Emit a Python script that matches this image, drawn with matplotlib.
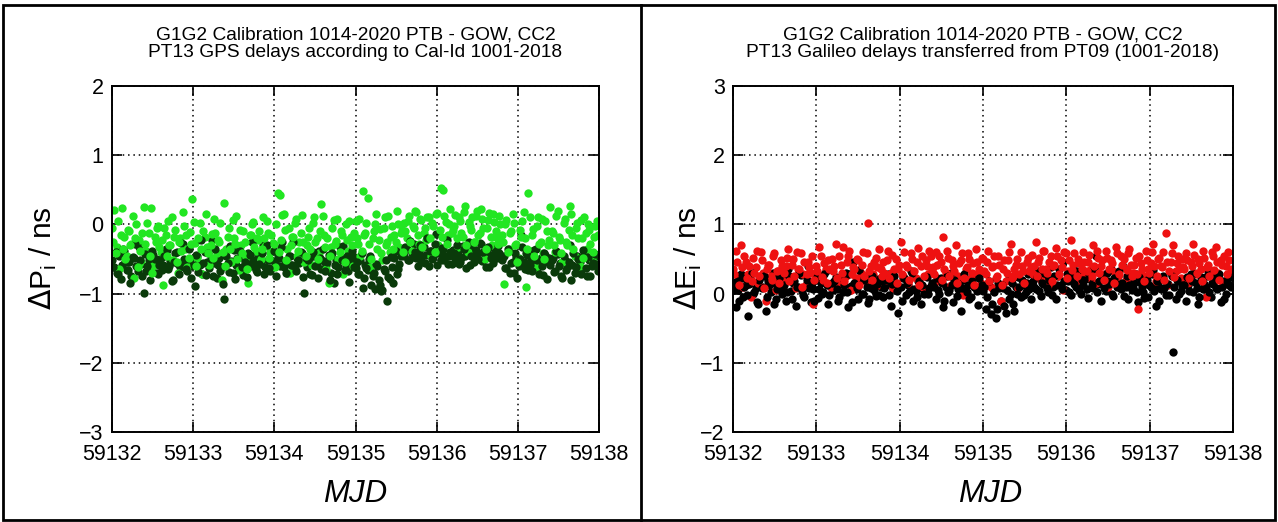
import numpy as np
import matplotlib
matplotlib.use('Agg')
import matplotlib.pyplot as plt
from matplotlib.patches import Rectangle
from matplotlib.ticker import ScalarFormatter

plt.rcParams['font.family'] = ['Liberation Sans', 'DejaVu Sans']

# track epochs (MJD): two interleaved sets, 0.03 d apart each
mjd_a = 59132.0 + 0.03 * np.arange(200)
mjd_b = mjd_a + 0.015

# GPS delay differences, PT13 (ns) - dark green / light green
gps_dark_a = [
    -0.52, -0.61, -0.70, -0.45, -0.58, -0.38, -0.66, -0.55, -0.74, -0.49, -0.60, -0.33, -0.57, -0.99, -0.68, -0.51, -0.63, -0.44, -0.56, -0.72,
    -0.48, -0.59, -0.36, -0.65, -0.53, -0.81, -0.42, -0.57, -0.62, -0.28, -0.55, -0.67, -0.50, -0.60, -0.89, -0.46, -0.58, -0.71, -0.40, -0.54,
    -0.63, -0.22, -0.56, -0.78, -0.49, -0.61, -1.08, -0.45, -0.69, -0.53, -0.37, -0.58, -0.64, -0.47, -0.73, -0.55, -0.41, -0.60, -0.52, -0.66,
    -0.44, -0.57, -0.30, -0.62, -0.51, -0.68, -0.39, -0.55, -0.47, -0.60, -0.26, -0.53, -0.70, -0.45, -0.58, -0.64, -0.49, -0.56, -0.42, -0.99,
    -0.61, -0.50, -0.73, -0.46, -0.57, -0.38, -0.65, -0.53, -0.59, -0.44, -0.70, -0.85, -0.52, -0.62, -0.48, -0.31, -0.58, -0.67, -0.55, -0.45,
    -0.63, -0.71, -0.52, -0.92, -0.58, -0.66, -0.45, -0.75, -0.93, -0.60, -0.88, -0.95, -0.68, -1.10, -0.79, -0.62, -0.49, -0.72, -0.57, -0.40,
    -0.45, -0.36, -0.52, -0.41, -0.29, -0.48, -0.38, -0.55, -0.33, -0.44, -0.60, -0.39, -0.47, -0.14, -0.42, -0.51, -0.35, -0.46, -0.57, -0.40,
    -0.37, -0.49, -0.43, -0.55, -0.31, -0.46, -0.40, -0.58, -0.36, -0.50, -0.42, -0.27, -0.53, -0.45, -0.38, -0.62, -0.44, -0.34, -0.49, -0.41,
    -0.52, -0.45, -0.63, -0.38, -0.56, -0.70, -0.47, -0.60, -0.16, -0.54, -0.42, -0.66, -0.50, -0.58, -0.35, -0.61, -0.48, -0.73, -0.44, -0.55,
    -0.59, -0.49, -0.67, -0.43, -0.56, -0.78, -0.51, -0.62, -0.30, -0.58, -0.70, -0.46, -0.55, -0.64, -0.40, -0.74, -0.52, -0.60, -0.47, -0.57,
]
gps_dark_b = [
    -0.62, -0.40, -0.71, -0.79, -0.35, -0.55, -0.66, -0.84, -0.47, -0.28, -0.68, -0.52, -0.75, -0.43, -0.60, -0.80, -0.38, -0.50, -0.70, -0.58,
    -0.66, -0.45, -0.37, -0.60, -0.82, -0.55, -0.40, -0.72, -0.27, -0.50, -0.64, -0.36, -0.77, -0.58, -0.44, -0.69, -0.23, -0.56, -0.73, -0.42,
    -0.50, -0.74, -0.36, -0.58, -0.67, -0.86, -0.43, -0.56, -0.31, -0.70, -0.79, -0.48, -0.39, -0.62, -0.54, -0.76, -0.44, -0.26, -0.60, -0.69,
    -0.57, -0.42, -0.72, -0.30, -0.63, -0.51, -0.38, -0.75, -0.49, -0.33, -0.61, -0.70, -0.45, -0.58, -0.25, -0.67, -0.52, -0.40, -0.76, -0.48,
    -0.52, -0.71, -0.40, -0.60, -0.77, -0.49, -0.36, -0.68, -0.55, -0.80, -0.42, -0.59, -0.72, -0.33, -0.51, -0.66, -0.46, -0.83, -0.39, -0.62,
    -0.55, -0.72, -0.42, -0.78, -0.63, -0.50, -0.88, -0.70, -0.57, -0.81, -0.96, -0.65, -0.52, -0.76, -0.47, -0.84, -0.38, -0.64, -0.45, -0.41,
    -0.33, -0.52, -0.24, -0.47, -0.40, -0.60, -0.30, -0.45, -0.56, -0.20, -0.38, -0.50, -0.28, -0.58, -0.42, -0.34, -0.51, -0.22, -0.46, -0.57,
    -0.42, -0.30, -0.57, -0.48, -0.35, -0.63, -0.26, -0.45, -0.54, -0.37, -0.50, -0.29, -0.40, -0.61, -0.33, -0.48, -0.56, -0.39, -0.31, -0.47,
    -0.47, -0.63, -0.35, -0.70, -0.55, -0.41, -0.77, -0.50, -0.32, -0.65, -0.44, -0.58, -0.68, -0.37, -0.52, -0.72, -0.60, -0.42, -0.79, -0.49,
    -0.51, -0.69, -0.39, -0.60, -0.75, -0.45, -0.66, -0.54, -0.80, -0.42, -0.62, -0.50, -0.71, -0.37, -0.63, -0.47, -0.74, -0.56, -0.43, -0.67,
]
gps_light_a = [
    -0.05, 0.21, -0.32, -0.65, 0.24, -0.18, -0.45, -0.10, -0.28, -0.78, 0.00, -0.22, -0.55, 0.25, -0.38, -0.12, 0.23, -0.60, -0.25, -0.02,
    -0.40, -0.88, -0.15, 0.05, -0.30, -0.52, -0.08, -0.70, -0.20, 0.18, -0.35, -0.62, -0.11, 0.37, -0.27, -0.48, 0.02, -0.72, -0.18, -0.33,
    -0.58, -0.14, 0.08, -0.42, -0.25, -0.80, 0.31, -0.36, -0.05, -0.55, -0.20, 0.12, -0.66, -0.30, -0.10, -0.47, -0.85, -0.16, 0.04, -0.38,
    -0.22, -0.50, 0.10, -0.31, -0.12, -0.40, -0.27, -0.62, 0.45, 0.42, 0.14, -0.08, -0.35, -0.70, -0.18, 0.02, -0.45, -0.25, 0.13, -0.55,
    -0.30, -0.05, -0.58, 0.11, -0.20, -0.42, 0.30, -0.15, -0.65, -0.85, -0.33, 0.06, -0.24, -0.50, -0.10, -0.72, 0.01, -0.38, -0.18, -0.60,
    0.05, -0.28, -0.45, 0.48, -0.12, 0.38, -0.62, -0.20, 0.00, -0.35, -0.07, -0.52, 0.10, -0.25, -0.40, -0.03, -0.15, 0.20, -0.33, -0.08,
    0.02, -0.20, 0.12, -0.38, -0.05, 0.18, -0.28, 0.06, -0.12, -0.22, 0.10, -0.45, -0.02, 0.15, -0.30, 0.53, 0.50, 0.04, -0.15, 0.22,
    -0.08, 0.14, -0.32, 0.05, -0.18, 0.27, -0.40, -0.02, 0.11, -0.25, 0.20, -0.12, 0.08, -0.50, -0.05, 0.16, -0.30, 0.03, -0.20, 0.12,
    -0.15, -0.86, 0.07, -0.35, -0.10, 0.02, -0.28, -0.48, -0.18, 0.18, -0.90, 0.46, -0.38, -0.06, -0.62, 0.10, -0.25, -0.42, 0.05, -0.30,
    0.25, -0.12, -0.40, 0.20, -0.22, -0.55, 0.08, -0.30, 0.26, -0.15, -0.45, 0.02, -0.60, -0.20, 0.10, -0.35, -0.08, -0.50, -0.18, 0.05,
]
gps_light_b = [
    -0.25, -0.42, 0.05, -0.15, -0.35, -0.50, -0.08, -0.30, 0.12, -0.20, -0.62, -0.38, -0.12, -0.28, 0.02, -0.45, -0.70, -0.18, -0.05, -0.32,
    -0.22, -0.05, -0.45, -0.30, 0.10, -0.18, -0.55, -0.25, -0.38, -0.02, -0.15, -0.48, -0.28, 0.04, -0.60, -0.20, -0.35, -0.10, 0.15, -0.42,
    -0.30, -0.48, -0.12, -0.22, 0.02, -0.40, -0.60, -0.18, -0.35, 0.06, -0.28, -0.50, -0.08, -0.42, -0.25, -0.65, -0.15, 0.00, -0.32, -0.20,
    -0.10, -0.35, -0.20, 0.05, -0.48, -0.15, -0.28, 0.00, -0.40, -0.22, 0.15, -0.52, -0.05, -0.30, -0.18, 0.08, -0.38, -0.12, -0.25, -0.45,
    -0.18, -0.35, 0.02, -0.25, -0.50, -0.10, 0.12, -0.32, -0.20, -0.45, -0.05, -0.28, 0.08, -0.40, -0.15, -0.55, -0.22, 0.05, -0.30, -0.12,
    -0.20, 0.08, -0.38, -0.15, 0.02, -0.28, -0.50, -0.10, 0.15, -0.22, -0.42, -0.05, -0.30, 0.12, -0.18, -0.35, -0.25, 0.00, -0.12, -0.40,
    -0.10, 0.05, -0.25, -0.02, 0.20, -0.15, 0.08, -0.32, -0.05, 0.10, -0.20, 0.02, -0.40, 0.16, -0.08, -0.18, 0.12, -0.28, 0.00, -0.12,
    -0.02, -0.20, 0.10, -0.12, 0.18, -0.30, 0.04, -0.08, -0.25, 0.12, -0.15, 0.22, -0.05, -0.35, 0.06, -0.18, 0.15, -0.10, -0.28, 0.00,
    -0.25, 0.00, -0.40, -0.12, 0.15, -0.30, -0.55, -0.08, 0.05, -0.20, -0.35, 0.10, -0.15, -0.45, -0.02, -0.28, 0.08, -0.50, -0.10, -0.22,
    -0.10, -0.30, 0.12, -0.18, -0.42, 0.02, -0.25, -0.08, 0.15, -0.35, -0.05, -0.20, 0.06, -0.48, -0.12, 0.00, -0.28, -0.40, -0.02, -0.15,
]

# Galileo delay differences, PT13 (ns) - black / red
gal_black_a = [
    0.15, -0.20, 0.05, 0.28, -0.05, 0.12, -0.32, 0.20, 0.00, 0.08, -0.15, 0.25, 0.10, -0.25, 0.18, 0.02, 0.30, -0.08, 0.14, 0.06,
    0.22, -0.10, 0.35, 0.04, 0.16, -0.18, 0.09, 0.27, -0.02, 0.12, 0.40, -0.12, 0.07, 0.20, -0.06, 0.15, 0.03, 0.32, -0.15, 0.10,
    0.05, 0.24, -0.10, 0.14, 0.02, 0.30, -0.20, 0.11, 0.45, 0.06, -0.08, 0.19, 0.00, 0.26, -0.14, 0.08, 0.17, -0.03, 0.21, 0.10,
    -0.05, 0.12, 0.28, -0.18, 0.06, 0.15, -0.28, 0.09, 0.22, -0.02, 0.13, 0.33, -0.10, 0.04, 0.18, -0.15, 0.07, 0.25, 0.00, 0.11,
    0.16, -0.08, 0.05, 0.23, -0.20, 0.10, 0.02, 0.30, -0.12, 0.14, 0.07, -0.25, 0.19, 0.03, 0.12, -0.05, 0.26, 0.08, -0.16, 0.10,
    0.04, -0.22, 0.12, -0.30, 0.06, -0.35, 0.15, -0.10, 0.08, -0.28, 0.20, 0.00, -0.15, 0.10, 0.24, -0.05, 0.13, 0.03, 0.29, -0.08,
    0.18, 0.06, 0.32, -0.04, 0.14, 0.22, 0.02, 0.38, 0.10, -0.08, 0.25, 0.12, 0.45, 0.05, 0.18, -0.02, 0.28, 0.09, 0.16, 0.00,
    0.12, 0.30, -0.06, 0.20, 0.08, 0.55, 0.14, -0.10, 0.24, 0.04, 0.18, 0.35, -0.03, 0.15, 0.26, 0.06, 0.40, 0.10, -0.08, 0.20,
    0.08, 0.28, -0.12, 0.16, 0.02, 0.22, -0.05, 0.10, 0.34, -0.18, 0.12, 0.06, 0.25, -0.02, 0.14, 0.30, -0.85, -0.08, 0.18, 0.04,
    0.20, -0.10, 0.12, 0.28, 0.02, 0.16, -0.15, 0.24, 0.06, 0.10, 0.32, -0.05, 0.14, 0.08, 0.22, -0.12, 0.18, 0.00, 0.26, 0.10,
]
gal_black_b = [
    0.05, 0.18, -0.10, 0.22, 0.10, -0.02, 0.14, 0.30, 0.02, -0.12, 0.20, 0.08, 0.25, -0.05, 0.12, 0.16, -0.15, 0.06, 0.22, 0.00,
    0.12, 0.02, 0.25, -0.08, 0.18, 0.10, 0.30, 0.04, -0.05, 0.20, 0.08, 0.15, -0.10, 0.24, 0.06, 0.00, 0.28, 0.12, -0.02, 0.16,
    0.18, 0.06, -0.05, 0.22, 0.12, 0.02, 0.28, -0.12, 0.15, 0.08, 0.34, 0.00, 0.20, 0.10, -0.08, 0.25, 0.05, 0.14, -0.02, 0.18,
    0.08, 0.20, -0.02, 0.14, 0.25, 0.04, 0.10, -0.10, 0.22, 0.15, 0.02, 0.30, 0.06, -0.05, 0.18, 0.12, 0.00, 0.24, 0.08, 0.16,
    0.10, 0.22, 0.00, 0.15, -0.10, 0.26, 0.05, 0.12, 0.20, -0.04, 0.14, 0.08, 0.28, 0.02, -0.08, 0.18, 0.10, 0.04, 0.22, 0.12,
    0.10, -0.05, 0.18, -0.15, 0.02, -0.22, 0.08, 0.12, -0.18, 0.05, -0.08, 0.15, -0.25, 0.00, 0.10, 0.20, -0.02, 0.16, 0.06, 0.12,
    0.10, 0.24, 0.04, 0.16, 0.30, 0.08, 0.20, -0.02, 0.26, 0.12, 0.35, 0.06, 0.18, 0.28, 0.02, 0.22, 0.14, 0.32, 0.05, 0.20,
    0.20, 0.06, 0.28, 0.12, 0.35, 0.02, 0.18, 0.25, 0.08, 0.30, 0.14, 0.00, 0.22, 0.10, 0.32, 0.16, -0.04, 0.26, 0.12, 0.05,
    0.15, 0.02, 0.24, 0.10, -0.06, 0.20, 0.12, 0.28, 0.04, 0.18, -0.10, 0.22, 0.08, 0.14, -0.02, 0.26, 0.10, 0.20, 0.00, 0.12,
    0.12, 0.24, 0.04, 0.18, 0.30, 0.08, -0.05, 0.20, 0.14, 0.26, 0.02, 0.16, 0.22, 0.06, 0.28, 0.10, -0.08, 0.18, 0.12, 0.24,
]
gal_red_a = [
    0.35, 0.62, 0.20, 0.70, 0.10, 0.45, 0.28, -0.05, 0.52, 0.38, 0.15, 0.60, 0.30, -0.10, 0.42, 0.25, 0.55, 0.05, 0.33, 0.48,
    0.18, 0.40, 0.65, 0.22, 0.50, 0.08, 0.36, 0.58, 0.28, 0.12, 0.45, 0.30, -0.15, 0.40, 0.26, 0.55, 0.20, 0.35, 0.48, 0.10,
    0.32, 0.72, 0.15, 0.42, 0.68, 0.25, 0.55, 0.05, 0.38, 0.22, 0.48, 0.30, 0.60, 0.18, 1.02, 0.40, 0.28, 0.52, 0.12, 0.35,
    0.45, 0.20, 0.62, 0.30, 0.08, 0.50, 0.35, 0.74, 0.25, 0.42, 0.15, 0.58, 0.32, 0.22, 0.66, 0.40, 0.10, 0.48, 0.28, 0.55,
    0.38, 0.60, 0.18, 0.45, 0.82, 0.30, 0.52, 0.12, 0.40, 0.70, 0.25, 0.48, -0.02, 0.35, 0.58, 0.22, 0.44, 0.65, 0.30, 0.15,
    0.50, 0.28, 0.62, 0.10, 0.40, 0.22, 0.55, -0.10, 0.35, 0.18, 0.48, 0.72, 0.25, 0.42, 0.08, 0.60, 0.32, 0.15, 0.52, 0.38,
    0.28, 0.75, 0.45, 0.20, 0.62, 0.35, 0.12, 0.55, 0.40, 0.66, 0.25, 0.48, 0.05, 0.58, 0.32, 0.78, 0.42, 0.18, 0.50, 0.30,
    0.60, 0.22, 0.45, 0.35, 0.70, 0.15, 0.52, 0.40, 0.28, 0.62, 0.10, 0.48, 0.33, 0.68, 0.25, 0.55, 0.38, 0.20, 0.58, 0.42,
    0.30, 0.52, -0.22, 0.44, 0.25, 0.62, 0.35, 0.44, 0.72, 0.18, 0.50, 0.40, 0.60, 0.87, 0.12, 0.46, 0.70, 0.32, 0.55, 0.22,
    0.38, 0.58, 0.15, 0.45, 0.72, 0.28, 0.50, 0.35, 0.62, -0.05, 0.42, 0.25, 0.55, 0.68, 0.30, 0.48, 0.12, 0.40, 0.60, 0.33,
]
gal_red_b = [
    0.28, 0.45, 0.12, 0.38, 0.55, 0.22, 0.40, 0.18, 0.30, 0.62, 0.25, 0.48, 0.08, 0.35, 0.42, 0.20, 0.58, 0.32, 0.15, 0.40,
    0.30, 0.52, 0.18, 0.42, 0.25, 0.60, 0.35, 0.10, 0.46, 0.28, 0.38, 0.55, 0.20, 0.32, 0.68, 0.24, 0.44, 0.15, 0.36, 0.50,
    0.40, 0.22, 0.55, 0.30, 0.18, 0.45, 0.62, 0.28, 0.35, 0.50, 0.12, 0.42, 0.26, 0.58, 0.33, 0.20, 0.46, 0.38, 0.65, 0.25,
    0.30, 0.48, 0.22, 0.56, 0.35, 0.15, 0.42, 0.28, 0.60, 0.38, 0.20, 0.50, 0.32, 0.45, 0.12, 0.55, 0.26, 0.40, 0.62, 0.34,
    0.28, 0.42, 0.55, 0.20, 0.36, 0.62, 0.25, 0.48, 0.32, 0.15, 0.44, 0.58, 0.22, 0.38, 0.50, 0.30, 0.12, 0.45, 0.35, 0.52,
    0.32, 0.45, 0.18, 0.38, 0.55, 0.25, 0.42, 0.12, 0.48, 0.30, 0.60, 0.22, 0.35, 0.50, 0.28, 0.40, 0.15, 0.46, 0.33, 0.56,
    0.40, 0.25, 0.52, 0.35, 0.62, 0.30, 0.46, 0.18, 0.42, 0.55, 0.28, 0.38, 0.60, 0.22, 0.48, 0.34, 0.58, 0.26, 0.44, 0.36,
    0.45, 0.32, 0.56, 0.25, 0.40, 0.62, 0.30, 0.48, 0.20, 0.52, 0.36, 0.44, 0.15, 0.58, 0.28, 0.42, 0.50, 0.34, 0.64, 0.26,
    0.42, 0.28, 0.55, 0.35, 0.18, 0.48, 0.30, 0.60, 0.40, 0.25, 0.52, 0.38, 0.20, 0.46, 0.32, 0.58, 0.24, 0.44, 0.36, 0.50,
    0.35, 0.48, 0.22, 0.40, 0.56, 0.30, 0.44, 0.18, 0.52, 0.38, 0.26, 0.60, 0.34, 0.46, 0.20, 0.42, 0.55, 0.28, 0.48, 0.36,
]

mjd_ticks = [59132, 59133, 59134, 59135, 59136, 59137, 59138]

W, H = 1278, 522
fig = plt.figure(figsize=(W / 100, H / 100), dpi=100)
MS = 6.0


def style_axes(ax, ylim):
    ax.set_xlim(59132, 59138)
    ax.set_ylim(*ylim)
    ax.set_xticks(mjd_ticks)
    ax.set_yticks(range(ylim[0], ylim[1] + 1))
    ax.xaxis.set_major_formatter(ScalarFormatter(useOffset=False))
    ax.tick_params(direction='in', length=7, width=1.2, top=True, right=True,
                   labelsize=15.5)
    ax.tick_params(axis='x', pad=9)
    ax.tick_params(axis='y', pad=6)
    ax.grid(True, color='black', linestyle=(0, (1, 2.5)), linewidth=1.1)
    for sp in ax.spines.values():
        sp.set_linewidth(1.4)


# left panel: GPS
ax1 = fig.add_axes([112 / W, 90 / H, 487 / W, 346 / H])
ax1.plot(mjd_a, gps_dark_a, 'o', color='#0a3a0a', ms=MS, mew=0)
ax1.plot(mjd_a, gps_light_a, 'o', color='#22e622', ms=MS, mew=0)
ax1.plot(mjd_b, gps_dark_b, 'o', color='#0a3a0a', ms=MS, mew=0)
ax1.plot(mjd_b, gps_light_b, 'o', color='#22e622', ms=MS, mew=0)
style_axes(ax1, (-3, 2))
ax1.set_title('G1G2 Calibration 1014-2020 PTB - GOW, CC2\n'
              'PT13 GPS delays according to Cal-Id 1001-2018',
              fontsize=13.8, pad=21, linespacing=1.05)
fig.text(43 / W, 1 - 258 / H, r'$\Delta$P$_\mathregular{i}$ / ns',
         rotation=90, ha='center', va='center', fontsize=21.5)
fig.text(355 / W, 1 - 494 / H, 'MJD', style='italic',
         ha='center', va='center', fontsize=22.5)

# right panel: Galileo
ax2 = fig.add_axes([733 / W, 90 / H, 500 / W, 346 / H])
ax2.plot(mjd_a, gal_black_a, 'o', color='black', ms=MS, mew=0)
ax2.plot(mjd_a, gal_red_a, 'o', color='#ee1111', ms=MS, mew=0)
ax2.plot(mjd_b, gal_black_b, 'o', color='black', ms=MS, mew=0)
ax2.plot(mjd_b, gal_red_b, 'o', color='#ee1111', ms=MS, mew=0)
style_axes(ax2, (-2, 3))
ax2.set_title('G1G2 Calibration 1014-2020 PTB - GOW, CC2\n'
              'PT13 Galileo delays transferred from PT09 (1001-2018)',
              fontsize=13.8, pad=21, linespacing=1.05)
fig.text(688 / W, 1 - 258 / H, r'$\Delta$E$_\mathregular{i}$ / ns',
         rotation=90, ha='center', va='center', fontsize=21.5)
fig.text(990 / W, 1 - 494 / H, 'MJD', style='italic',
         ha='center', va='center', fontsize=22.5)

# panel frames
fig.add_artist(Rectangle((0.002, 0.003), 0.996, 0.988, transform=fig.transFigure,
                         fill=False, edgecolor='black', linewidth=2))
fig.add_artist(plt.Line2D([641 / W, 641 / W], [0.003, 0.991], transform=fig.transFigure,
                          color='black', linewidth=2))

fig.savefig('out.png', dpi=100)
plt.close('all')
